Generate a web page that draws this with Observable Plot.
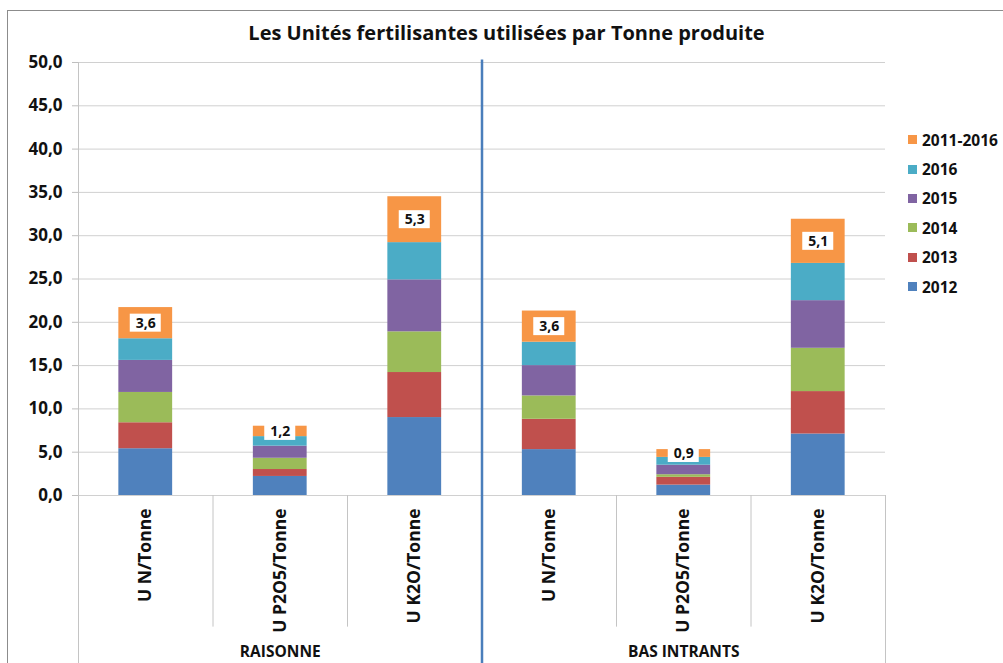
<!DOCTYPE html>
<html><head><meta charset="utf-8">
<script src="https://cdn.jsdelivr.net/npm/d3@7"></script>
<script src="https://cdn.jsdelivr.net/npm/@observablehq/plot@0.6"></script>
<style>
body{margin:0;background:#fff;}
#wrap{position:relative;width:1003px;height:663px;overflow:hidden;font-family:"Open Sans",Lato,sans-serif;color:#111;}
#border{position:absolute;left:7px;top:10px;width:1010px;height:700px;border:1.5px solid #8c8c8c;box-sizing:border-box;}
#title{position:absolute;left:0;width:1013px;top:19px;text-align:center;font-weight:bold;font-size:20px;}
#legend{position:absolute;left:908px;top:125px;}
.item{height:29.4px;display:flex;align-items:center;font-weight:bold;font-size:15.5px;}
.sw{width:9px;height:9px;margin-right:5px;}
#chart{position:absolute;left:0;top:0;}
</style></head>
<body>
<div id="wrap">
  <div id="border"></div>
  <div id="chart"></div>
  <div id="title">Les Unités fertilisantes utilisées par Tonne produite</div>
  <div id="legend"></div>
</div>
<script>
const groups = ["RAISONNE", "BAS INTRANTS"];
const categories = ["U N/Tonne", "U P2O5/Tonne", "U K2O/Tonne", "U N/Tonne", "U P2O5/Tonne", "U K2O/Tonne"];
const series = ["2012", "2013", "2014", "2015", "2016", "2011-2016"];
const colors = ["#4F81BD", "#C0504D", "#9BBB59", "#8064A2", "#4BACC6", "#F79646"];
const v2012 = [5.4, 2.2, 9.0, 5.3, 1.2, 7.1];
const v2013 = [3.0, 0.8, 5.2, 3.5, 0.9, 4.9];
const v2014 = [3.5, 1.3, 4.7, 2.7, 0.3, 5.0];
const v2015 = [3.7, 1.4, 6.0, 3.5, 1.1, 5.5];
const v2016 = [2.5, 1.1, 4.3, 2.7, 0.9, 4.3];
const vAvg  = [3.6, 1.2, 5.3, 3.6, 0.9, 5.1];
const yTicks = [0, 5, 10, 15, 20, 25, 30, 35, 40, 45, 50];

const seriesValues = [v2012, v2013, v2014, v2015, v2016, vAvg];
const rows = [];
categories.forEach((c, i) => {
  let acc = 0;
  series.forEach((s, k) => {
    const v = seriesValues[k][i];
    rows.push({i, cat: c, series: s, value: v, y1: acc, y2: acc + v});
    acc += v;
  });
});
const avgRows = rows.filter(d => d.series === "2011-2016");
const fmt = d => d.toFixed(1).replace(".", ",");
const catIdx = categories.map((c, i) => i);
const innerSeps = [1, 2, 4, 5];
const FONT = "'Open Sans', Lato, sans-serif";

const chart = Plot.plot({
  width: 1003,
  height: 663,
  marginTop: 62,
  marginBottom: 168,
  marginLeft: 78,
  marginRight: 118,
  style: {fontFamily: FONT, background: "transparent", overflow: "visible"},
  x: {domain: [0, 6], axis: null},
  y: {domain: [0, 50]},
  color: {domain: series, range: colors},
  marks: [
    Plot.gridY(yTicks, {stroke: "#d0d0d0", strokeOpacity: 1, strokeWidth: 1}),
    Plot.axisY(yTicks, {tickSize: 6, tickPadding: 10, stroke: "#bfbfbf", fill: "#111", tickFormat: fmt, fontWeight: "bold", fontSize: 17}),
    Plot.ruleX([0], {x: d => d, y1: 50, y2: -19.5, stroke: "#c4c4c4", strokeWidth: 1}),
    Plot.ruleX([6], {x: d => d, y1: 0, y2: -19.5, stroke: "#c4c4c4", strokeWidth: 1}),
    Plot.ruleX(innerSeps, {x: d => d, y1: 0, y2: -15.2, stroke: "#c4c4c4", strokeWidth: 1}),
    Plot.rect(rows, {x1: d => d.i + 0.3, x2: d => d.i + 0.7, y1: "y1", y2: "y2", fill: "series"}),
    Plot.rect(avgRows, {x1: d => d.i + 0.5, x2: d => d.i + 0.5, y1: d => (d.y1 + d.y2) / 2, y2: d => (d.y1 + d.y2) / 2,
      insetLeft: -15.5, insetRight: -15.5, insetTop: -9, insetBottom: -9, fill: "white"}),
    Plot.text(avgRows, {x: d => d.i + 0.5, y: d => (d.y1 + d.y2) / 2, text: d => fmt(d.value), fontWeight: "bold", fontSize: 14, fill: "#111"}),
    Plot.ruleX([3], {x: d => d, y1: 50.3, y2: -19.5, stroke: "#4a7ebb", strokeWidth: 2.5}),
    Plot.text(catIdx, {x: d => d + 0.5, y: 0, dy: 13, rotate: -90, textAnchor: "end", text: d => categories[d], fontWeight: "bold", fontSize: 17.5, fill: "#111"}),
    Plot.text(groups, {x: (d, i) => 1.5 + 3 * i, y: 0, dy: 157, text: d => d, fontWeight: "bold", fontSize: 15.5, fill: "#111"})
  ]
});
document.getElementById("chart").appendChild(chart);

const legend = document.getElementById("legend");
series.slice().reverse().forEach(s => {
  const k = series.indexOf(s);
  const it = document.createElement("div");
  it.className = "item";
  it.innerHTML = `<span class="sw" style="background:${colors[k]}"></span><span>${s}</span>`;
  legend.appendChild(it);
});
</script>
</body></html>
